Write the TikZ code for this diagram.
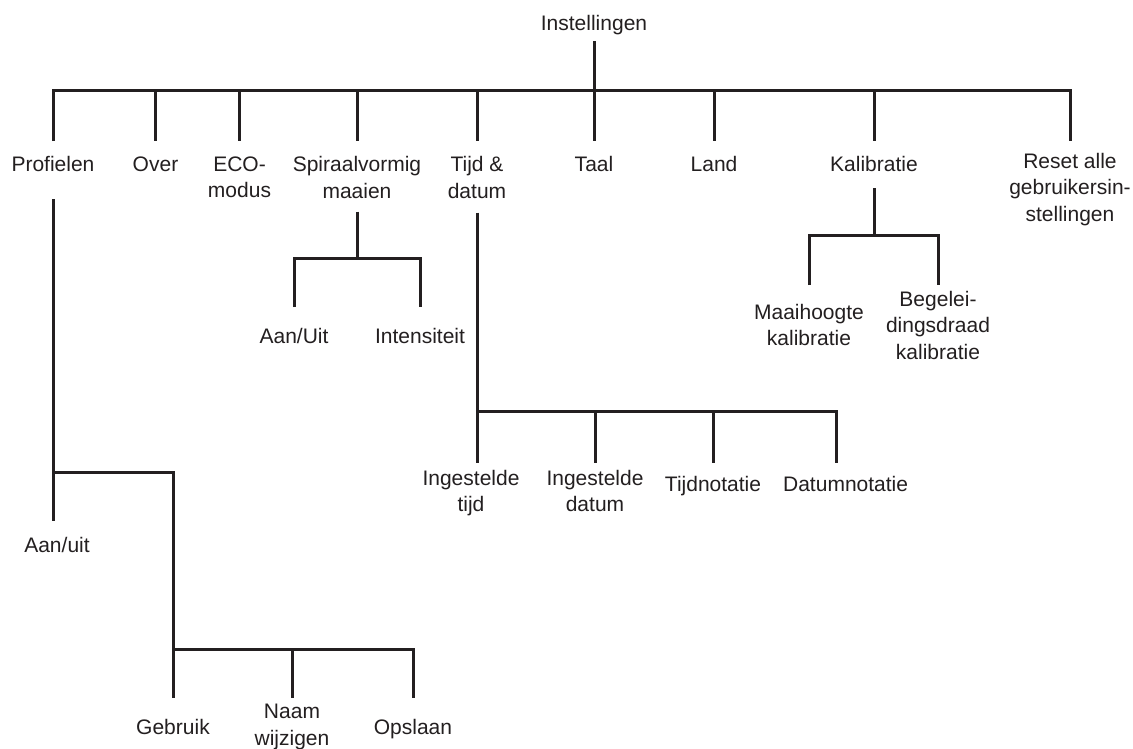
\documentclass[tikz,border=0pt]{standalone}
\usepackage{fontspec}
\setmainfont{Liberation Sans}
\definecolor{ink}{RGB}{35,31,32}
\begin{document}
\begin{tikzpicture}[x=1pt,y=-1pt,
  lbl/.style={anchor=north, align=center, inner sep=0pt, text=ink,
              font=\fontsize{21}{26.5}\selectfont},
  conn/.style={draw=ink, line width=3pt}]
\fill[white] (0,0) rectangle (1133,748);
\useasboundingbox (0,0) rectangle (1133,748);

% ---------- nodes ----------
\node[lbl] (root)  at (594,15)    {Instellingen};
\node[lbl] (prof)  at (53,156.5)  {Profielen};
\node[lbl] (over)  at (155.5,156.5) {Over};
\node[lbl] (eco)   at (239.5,156.5) {ECO-\\modus};
\node[lbl] (spir)  at (357,156.5) {Spiraalvormig\\maaien};
\node[lbl] (tijd)  at (477,156.5) {Tijd \&\\datum};
\node[lbl] (taal)  at (594,156.5) {Taal};
\node[lbl] (land)  at (714,156.5) {Land};
\node[lbl] (kal)   at (874,156.5) {Kalibratie};
\node[lbl] (reset) at (1070,153)  {Reset alle\\gebruikersin-\\stellingen};

\node[lbl] (aanU)  at (294,327.7) {Aan/Uit};
\node[lbl] (inten) at (420,327.7) {Intensiteit};

\node[lbl] (ing1)  at (471,470)   {Ingestelde\\tijd};
\node[lbl] (ing2)  at (595,470)   {Ingestelde\\datum};
\node[lbl] (tijdn) at (713,476)   {Tijdnotatie};
\node[lbl] (datn)  at (845.6,476) {Datumnotatie};

\node[lbl] (maai)  at (809,304)   {Maaihoogte\\kalibratie};
\node[lbl] (beg)   at (938,291)   {Begelei-\\dingsdraad\\kalibratie};

\node[lbl] (aanu)  at (57,537)    {Aan/uit};
\node[lbl] (gebr)  at (173,719.3) {Gebruik};
\node[lbl] (naam)  at (292,704)   {Naam\\wijzigen};
\node[lbl] (opsl)  at (413,719.3) {Opslaan};

% ---------- levels ----------
\coordinate (L0a) at (0,41);
\coordinate (L0b) at (0,90);
\coordinate (L0c) at (0,141);
\coordinate (Sa) at (0,211.7);
\coordinate (Sb) at (0,258);
\coordinate (Sc) at (0,307);
\coordinate (Ta) at (0,212.7);
\coordinate (Tb) at (0,411);
\coordinate (Tc) at (0,463);
\coordinate (Ka) at (0,188.3);
\coordinate (Kb) at (0,235);
\coordinate (Kc) at (0,285);
\coordinate (Pa) at (0,199);
\coordinate (Pb) at (0,472.7);
\coordinate (Pc) at (0,520.7);
\coordinate (Gb) at (0,649);
\coordinate (Gc) at (0,697.5);

% ---------- connectors ----------
% root level
\draw[conn] (root |- L0a) -- (root |- L0b);
\draw[conn] (prof |- L0c) -- (prof |- L0b) -- (reset |- L0b) -- (reset |- L0c);
\foreach \n in {over,eco,spir,tijd,taal,land,kal}
  \draw[conn] (\n |- L0b) -- (\n |- L0c);

% Spiraalvormig maaien
\draw[conn] (spir |- Sa) -- (spir |- Sb);
\draw[conn] (aanU |- Sc) -- (aanU |- Sb) -- (inten |- Sb) -- (inten |- Sc);

% Tijd & datum
\draw[conn] (tijd |- Ta) -- (tijd |- Tc);
\draw[conn] (tijd |- Tb) -- ([xshift=-9.6pt]datn |- Tb) -- ([xshift=-9.6pt]datn |- Tc);
\draw[conn] (ing2 |- Tb) -- (ing2 |- Tc);
\draw[conn] (tijdn |- Tb) -- (tijdn |- Tc);

% Kalibratie
\draw[conn] (kal |- Ka) -- (kal |- Kb);
\draw[conn] (maai |- Kc) -- (maai |- Kb) -- (beg |- Kb) -- (beg |- Kc);

% Profielen
\draw[conn] (prof |- Pa) -- (prof |- Pc);
\draw[conn] (prof |- Pb) -| (gebr |- Gc);
\draw[conn] (gebr |- Gb) -| (opsl |- Gc);
\draw[conn] (naam |- Gb) -- (naam |- Gc);
\end{tikzpicture}
\end{document}
